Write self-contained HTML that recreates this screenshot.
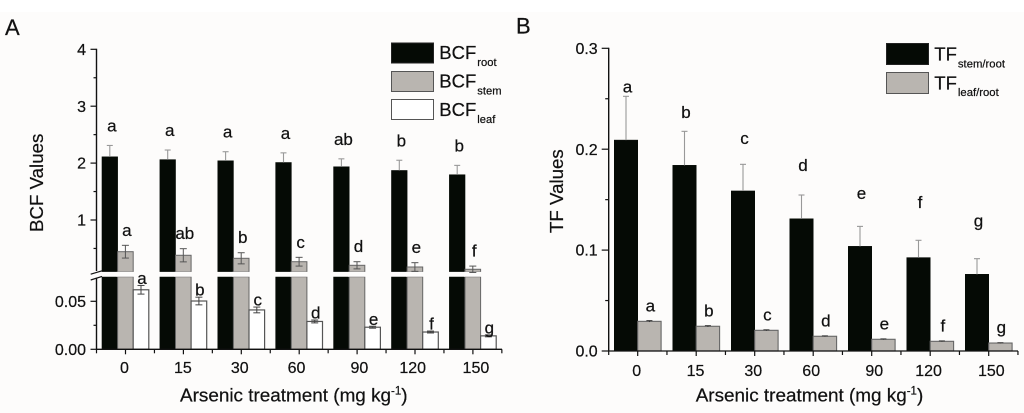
<!DOCTYPE html>
<html>
<head>
<meta charset="utf-8">
<title>BCF and TF values</title>
<style>
html,body{margin:0;padding:0;background:#fff;}
svg{display:block;font-family:"Liberation Sans",sans-serif;fill:#111;filter:blur(0.3px);}
svg text{stroke:#111;stroke-width:0.22px;}
</style>
</head>
<body>
<svg id="fig" xmlns="http://www.w3.org/2000/svg" width="1024" height="413" viewBox="0 0 1024 413">
  <rect x="0" y="12" width="1024" height="401" fill="#fdfcfb"/>
  <text x="5" y="35" font-size="22">A</text>
  <text x="516" y="33.5" font-size="22">B</text>
  <text transform="translate(43,232) rotate(-90)" font-size="18.7">BCF Values</text>
  <text transform="translate(563,233) rotate(-90)" font-size="18.7">TF Values</text>
  <text x="180" y="401.7" font-size="18.9">Arsenic treatment (mg kg<tspan dy="-7" font-size="11.5">-1</tspan><tspan dy="7">)</tspan></text>
  <text x="695.7" y="401.7" font-size="18.9">Arsenic treatment (mg kg<tspan dy="-7" font-size="11.5">-1</tspan><tspan dy="7">)</tspan></text>

  <g>
    <rect x="391.5" y="43" width="42" height="20" fill="#050a05" stroke="#222"/>
    <text x="439.3" y="59" font-size="18.5">BCF<tspan font-size="11.2" dx="1" dy="7">root</tspan></text>
    <rect x="391.5" y="71.5" width="42" height="20" fill="#b9b5b0" stroke="#555"/>
    <text x="439.3" y="87.3" font-size="18.5">BCF<tspan font-size="11.2" dx="1" dy="7">stem</tspan></text>
    <rect x="391.5" y="99.5" width="42" height="20" fill="#fff" stroke="#555"/>
    <text x="439.3" y="116" font-size="18.5">BCF<tspan font-size="11.2" dx="1" dy="7">leaf</tspan></text>
  </g>
  <g>
    <rect x="886.5" y="43.5" width="42" height="21" fill="#050a05" stroke="#222"/>
    <text x="934.3" y="60.7" font-size="18.5">TF<tspan font-size="11.3" dx="1" dy="6.6">stem/root</tspan></text>
    <rect x="886.5" y="72.5" width="42" height="21" fill="#b9b5b0" stroke="#555"/>
    <text x="934.3" y="89.3" font-size="18.5">TF<tspan font-size="11.3" dx="1" dy="6.6">leaf/root</tspan></text>
  </g>
</svg>
<script>
// Shared categories
const categories = ["0", "15", "30", "60", "90", "120", "150"];

// Panel A data
const bcfRoot = [2.11, 2.06, 2.04, 2.01, 1.935, 1.87, 1.795];
const bcfRootErr = [0.20, 0.17, 0.16, 0.17, 0.14, 0.18, 0.165];
const bcfRootLetters = ["a", "a", "a", "a", "ab", "b", "b"];
const bcfStem = [0.443, 0.38, 0.327, 0.267, 0.204, 0.174, 0.134];
const bcfStemErr = [0.112, 0.116, 0.098, 0.077, 0.063, 0.076, 0.056];
const bcfStemLetters = ["a", "ab", "b", "c", "d", "e", "f"];
const bcfLeaf = [0.062, 0.0503, 0.041, 0.029, 0.023, 0.018, 0.014];
const bcfLeafErr = [0.0045, 0.004, 0.003, 0.0015, 0.001, 0.001, 0.001];
const bcfLeafLetters = ["a", "b", "c", "d", "e", "f", "g"];
const bcfUpperTicks = ["1", "2", "3", "4"];
const bcfUpperMinor = [0.5, 1.5, 2.5, 3.5];
const bcfLowerTicks = ["0.00", "0.05"];
const bcfLowerMinor = [0.025];

// Panel B data
const tfStem = [0.209, 0.184, 0.1586, 0.131, 0.1037, 0.0925, 0.076];
const tfStemErr = [0.0434, 0.0337, 0.0264, 0.0236, 0.0198, 0.0172, 0.0155];
const tfStemLetters = ["a", "b", "c", "d", "e", "f", "g"];
const tfStemLetterGap = [0.0036, 0.013, 0.0204, 0.024, 0.027, 0.032, 0.032];
const tfLeaf = [0.0294, 0.0245, 0.0205, 0.0146, 0.0116, 0.0096, 0.0079];
const tfLeafErr = [0.0007, 0.0006, 0.0005, 0.0004, 0.0004, 0.0004, 0.0003];
const tfLeafLetters = ["a", "b", "c", "d", "e", "f", "g"];
const tfTicks = ["0.0", "0.1", "0.2", "0.3"];
const tfMinor = [0.05, 0.15, 0.25];

const svg = document.getElementById('fig');
const NS = 'http://www.w3.org/2000/svg';
const BLACK = '#050a05', GREY = '#b9b5b0';

function make(tag, attrs) {
  const el = document.createElementNS(NS, tag);
  for (const k in attrs) el.setAttribute(k, attrs[k]);
  svg.appendChild(el);
  return el;
}
function box(x, y0, y1, fill, stroke, sw) {
  return make('rect', {x: x, y: Math.min(y0, y1), width: 1, height: Math.abs(y1 - y0), fill: fill, stroke: stroke, 'stroke-width': sw});
}
function seg(x1, y1, x2, y2, stroke, sw) {
  return make('line', {x1: x1, y1: y1, x2: x2, y2: y2, stroke: stroke, 'stroke-width': sw});
}
function label(x, y, str, size, anchor) {
  const t = make('text', {x: x, y: y, 'font-size': size, 'text-anchor': anchor});
  t.textContent = str;
  return t;
}

/* ---------- Panel A ---------- */
const aLeft = 96.5, aRight = 502, aBase = 349.3;
const aLowerMax = 0.0756, aUpperMin = 0.086;
const aBarW = 15.6;
const aNudge = [-1, -0.5, -1.5, -2.7, 2.3, -2.3, 3];
function ax(i) { return 125.5 + i * 57.9; }
function ayLow(v) { return aBase - v * 960; }
function ayUp(v) { return 220 - (v - 1) * 56.9; }
function ay(v) { return v <= aLowerMax ? ayLow(v) : ayUp(v); }

function brokenBar(i, offset, v, fill, stroke, sw, name) {
  const x = ax(i) + offset;
  const low = box(x, ayLow(0), ayLow(Math.min(v, aLowerMax)), fill, stroke, sw);
  low.setAttribute('width', aBarW);
  
  
  if (v > aUpperMin) {
    const up = box(x, ayUp(v), ayUp(aUpperMin), fill, stroke, sw);
    up.setAttribute('width', aBarW);
    
    
    const cover = seg(x - 1, ayLow(aLowerMax) - 2.4, x + aBarW + 1, ayLow(aLowerMax) - 2.4, '#fdfcfb', 4.8);
    
    
  }
}
function errorBar(cx, yTop, yBot, color, sw, capHalf, name) {
  const stem = seg(cx, yTop, cx, yBot, color, sw);
  
  
  const cap = seg(cx - capHalf, yTop, cx + capHalf, yTop, color, sw);
  
  
}

categories.forEach(function (cat, i) {
  const rootX = ax(i) - 23.5 + aBarW / 2;
  const stemX = ax(i) - 7.9 + aBarW / 2;
  const leafX = ax(i) + 7.7 + aBarW / 2;
  brokenBar(i, -23.5, bcfRoot[i], BLACK, BLACK, 0.6, 'bar-root-' + cat);
  brokenBar(i, -7.9, bcfStem[i], GREY, '#666', 1, 'bar-stem-' + cat);

  const leaf = box(ax(i) + 7.7, ayLow(0), ayLow(bcfLeaf[i]), '#fff', '#555', 1.2);
  leaf.setAttribute('width', aBarW);
  
  

  errorBar(rootX, ay(bcfRoot[i] + bcfRootErr[i]), ay(bcfRoot[i]), '#999', 1.1, 3, 'error-root-' + cat);
  errorBar(stemX, ay(bcfStem[i] + bcfStemErr[i]), ay(bcfStem[i] - bcfStemErr[i]), '#555', 1, 3.5, 'error-stem-upper-' + cat);
  const stemLow = seg(stemX - 3.5, ay(bcfStem[i] - bcfStemErr[i]), stemX + 3.5, ay(bcfStem[i] - bcfStemErr[i]), '#555', 1);
  
  
  errorBar(leafX, ayLow(bcfLeaf[i] + bcfLeafErr[i]), ayLow(bcfLeaf[i] - bcfLeafErr[i]), '#444', 1, 3.5, 'error-leaf-upper-' + cat);
  const leafLow = seg(leafX - 3.5, ayLow(bcfLeaf[i] - bcfLeafErr[i]), leafX + 3.5, ayLow(bcfLeaf[i] - bcfLeafErr[i]), '#444', 1);
  
  

  const l1 = label(rootX + 2, ay(bcfRoot[i] + bcfRootErr[i]) - 14, bcfRootLetters[i], 17, 'middle');
  
  
  const l2 = label(stemX + 1.5, ay(bcfStem[i] + bcfStemErr[i]) - 9.5, bcfStemLetters[i], 17, 'middle');
  
  
  const l3 = label(leafX + 1, ayLow(bcfLeaf[i] + bcfLeafErr[i]) - 1.5, bcfLeafLetters[i], 17, 'middle');
  
  

  const t = seg(ax(i), aBase, ax(i), aBase + 5, '#111', 1.2);
  
  
  const m = seg(ax(i) + 28.95, aBase, ax(i) + 28.95, aBase + 4, '#111', 1.2);
  
  
  const tl = label(ax(i) + aNudge[i], 373, cat, 16, 'middle');
  
  
});

const aOrigin = seg(aLeft, aBase, aLeft, aBase + 4, '#111', 1.2);


const aXAxis = seg(aLeft, aBase, aRight, aBase, '#111', 1.3);


const aYUpper = seg(aLeft, ayUp(4) - 0.5, aLeft, ayUp(aUpperMin) - 1, '#111', 1.4);


const aYLower = seg(aLeft, ayLow(aLowerMax) + 1, aLeft, aBase, '#111', 1.4);


const slash1 = seg(90.7, 274.2, 102, 270.8, '#111', 1.2);


const slash2 = seg(90.7, 280, 102, 276.4, '#111', 1.2);



bcfUpperTicks.forEach(function (s) {
  const y = ayUp(Number(s));
  const t = seg(aLeft - 6, y, aLeft, y, '#111', 1.2);
  
  
  const l = label(86, y + 5.6, s, 16, 'end');
  
  
});
bcfUpperMinor.forEach(function (v) {
  const t = seg(aLeft - 3, ayUp(v), aLeft, ayUp(v), '#111', 1.2);
  
  
});
bcfLowerTicks.forEach(function (s) {
  const y = ayLow(Number(s));
  const t = seg(aLeft - 6, y, aLeft, y, '#111', 1.2);
  
  
  const l = label(86, y + 5.6, s, 16, 'end');
  
  
});
bcfLowerMinor.forEach(function (v) {
  const t = seg(aLeft - 3, ayLow(v), aLeft, ayLow(v), '#111', 1.2);
  
  
});

/* ---------- Panel B ---------- */
const bLeft = 608.7, bRight = 1018, bBase = 351;
const bBarW = 23.4;
const bNudge = [-1, -0.7, -1.4, -2, 2.6, -1.6, 2.6];
function bx(i) { return 637.7 + i * 58.5; }
function by(v) { return bBase - v * 1009; }

categories.forEach(function (cat, i) {
  const rootX = bx(i) - bBarW / 2;
  const leafX = bx(i) + bBarW / 2;

  const r = box(bx(i) - bBarW, by(0), by(tfStem[i]), BLACK, BLACK, 0.6);
  r.setAttribute('width', bBarW);
  
  
  const g = box(bx(i), by(0), by(tfLeaf[i]), GREY, '#666', 1.1);
  g.setAttribute('width', bBarW);
  
  

  errorBar(rootX, by(tfStem[i] + tfStemErr[i]), by(tfStem[i]), '#999', 1.1, 3, 'error-stem-root-' + cat);
  errorBar(leafX, by(tfLeaf[i] + tfLeafErr[i]), by(tfLeaf[i] - tfLeafErr[i]), '#333', 1, 3, 'error-leaf-root-' + cat);

  const l1 = label(rootX + 1.5, by(tfStem[i] + tfStemErr[i] + tfStemLetterGap[i]), tfStemLetters[i], 17, 'middle');
  
  
  const l2 = label(leafX + 1, by(tfLeaf[i]) - 10, tfLeafLetters[i], 17, 'middle');
  
  

  const t = seg(bx(i), bBase, bx(i), bBase + 5, '#111', 1.2);
  
  
  const m = seg(bx(i) + 29.25, bBase, bx(i) + 29.25, bBase + 4, '#111', 1.2);
  
  
  const tl = label(bx(i) + bNudge[i], 376, cat, 16, 'middle');
  
  
});

const bOrigin = seg(bLeft, bBase, bLeft, bBase + 4, '#111', 1.2);


const bXAxis = seg(bLeft, bBase, bRight, bBase, '#111', 1.3);


const bYAxis = seg(bLeft, by(0.3) - 0.5, bLeft, bBase, '#111', 1.4);



tfTicks.forEach(function (s) {
  const y = by(Number(s));
  const t = seg(bLeft - 7, y, bLeft, y, '#111', 1.2);
  
  
  const l = label(597.7, y + 5.6, s, 16, 'end');
  
  
});
tfMinor.forEach(function (v) {
  const t = seg(bLeft - 3.5, by(v), bLeft, by(v), '#111', 1.2);
  
  
});
</script>
</body>
</html>
